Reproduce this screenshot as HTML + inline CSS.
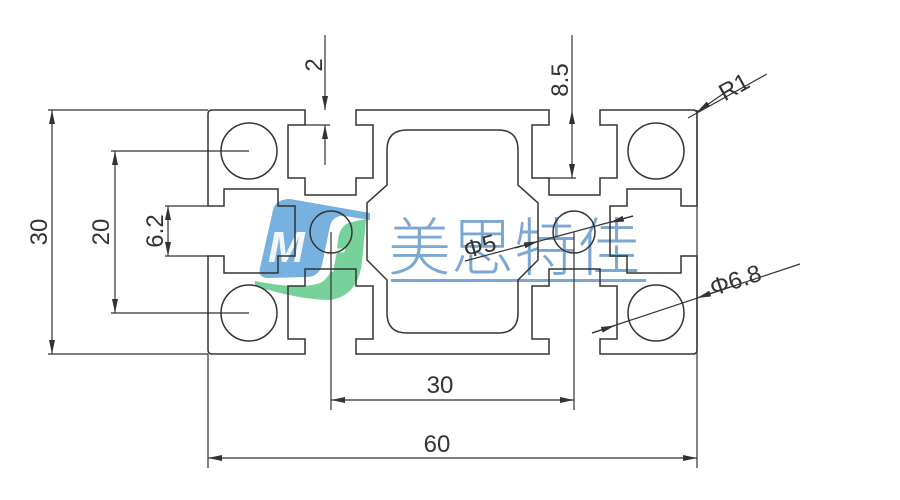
<!DOCTYPE html>
<html><head><meta charset="utf-8"><style>
html,body{margin:0;padding:0;background:#fff;}
svg{display:block;}
text{font-family:"Liberation Sans","DejaVu Sans",sans-serif;fill:#333;}
</style></head><body>
<svg width="900" height="500" viewBox="0 0 900 500" xmlns="http://www.w3.org/2000/svg">
<defs>
<marker id="a" viewBox="0 0 14 6" refX="14" refY="3" markerWidth="14" markerHeight="6" markerUnits="userSpaceOnUse" orient="auto-start-reverse">
<path d="M0,0 L14,3 L0,6 Z" fill="#333"/>
</marker>
</defs>

<!-- logo -->
<g opacity="0.75">
<path d="M290,199 L370,213 L370,220 L345,216 Q333,215 330,226 L322,265 Q319,276 308,277 L268,278 Q258,278 260,268 L273,210 Q276,199 290,199 Z" fill="#4a97d6"/>
<path d="M255,281 Q300,290 320,283 Q335,276 338,240 Q340,224 352,222 L366,219 L362,262 Q358,296 330,300 Q300,300 255,286 Z" fill="#49c27a"/>
</g>
<text x="268" y="262" font-size="44" font-weight="bold" font-style="italic" style="fill:#fff" opacity="0.9">M</text>
<text x="322" y="272" font-size="34" font-weight="bold" font-style="italic" style="fill:#fff" opacity="0.9">T</text>
<text x="388" y="270" font-size="63" style="fill:#7ba7d3;font-family:'Noto Sans CJK SC',sans-serif;font-weight:300">美思特佳</text>
<rect x="391" y="279" width="255" height="3" fill="#7ba7d3"/>

<g fill="none" stroke="#333" stroke-width="1.5">
<path d="M208,114 Q208,110 212,110 L305,110 L305,125 L288,125 L288,178 L305,178 L305,195 L356,195 L356,178 L373,178 L373,125 L356,125 L356,110 L549,110 L549,125 L532,125 L532,178 L549,178 L549,195 L600,195 L600,178 L617,178 L617,125 L600,125 L600,110 L693,110 Q697,110 697,114 L697,206 L681,206 L681,189 L627,189 L627,206 L610,206 L610,256 L627,256 L627,273 L681,273 L681,256 L697,256 L697,350 Q697,354 693,354 L600,354 L600,339 L617,339 L617,286 L600,286 L600,269 L549,269 L549,286 L532,286 L532,339 L549,339 L549,354 L356,354 L356,339 L373,339 L373,286 L356,286 L356,269 L305,269 L305,286 L288,286 L288,339 L305,339 L305,354 L212,354 Q208,354 208,350 L208,256 L224,256 L224,273 L278,273 L278,256 L295,256 L295,206 L278,206 L278,189 L224,189 L224,206 L208,206 Z"/>
<path d="M407,130 L498,130 Q518,130 518,150 L518,185 L538,203 L538,260 L518,280 L518,313 Q518,333 498,333 L407,333 Q387,333 387,313 L387,280 L367,260 L367,203 L387,185 L387,150 Q387,130 407,130 Z"/>
<circle cx="249" cy="151" r="28"/>
<circle cx="249" cy="313" r="28"/>
<circle cx="656" cy="151" r="28"/>
<circle cx="656" cy="313" r="28"/>
<circle cx="331" cy="232" r="21"/>
<circle cx="574" cy="232" r="21"/>
</g>

<g stroke="#333" stroke-width="1.2" fill="none">
<line x1="48" y1="110" x2="208" y2="110"/>
<line x1="48" y1="354" x2="208" y2="354"/>
<line x1="52" y1="110" x2="52" y2="354" marker-start="url(#a)" marker-end="url(#a)"/>
<line x1="111" y1="151" x2="249" y2="151"/>
<line x1="111" y1="313" x2="249" y2="313"/>
<line x1="115" y1="151" x2="115" y2="313" marker-start="url(#a)" marker-end="url(#a)"/>
<line x1="165" y1="206" x2="208" y2="206"/>
<line x1="165" y1="256" x2="208" y2="256"/>
<line x1="168" y1="231" x2="168" y2="206" marker-end="url(#a)"/>
<line x1="168" y1="231" x2="168" y2="256" marker-end="url(#a)"/>
<line x1="325" y1="35" x2="325" y2="110" marker-end="url(#a)"/>
<line x1="305" y1="125" x2="330" y2="125"/>
<line x1="325" y1="165" x2="325" y2="125" marker-end="url(#a)"/>
<line x1="572" y1="35" x2="572" y2="110"/>
<line x1="572" y1="144" x2="572" y2="110" marker-end="url(#a)"/>
<line x1="572" y1="144" x2="572" y2="178" marker-end="url(#a)"/>
<line x1="549" y1="178" x2="576" y2="178"/>
<line x1="688" y1="118" x2="767" y2="74"/>
<line x1="730" y1="89" x2="697" y2="112" marker-end="url(#a)"/>
<line x1="465" y1="261" x2="633" y2="216"/>
<line x1="515" y1="248" x2="538" y2="241.5" marker-end="url(#a)"/>
<line x1="633" y1="216" x2="610" y2="222.5" marker-end="url(#a)"/>
<line x1="592" y1="333" x2="800" y2="264"/>
<line x1="592" y1="333" x2="615" y2="325.5" marker-end="url(#a)"/>
<line x1="730" y1="287" x2="697" y2="298" marker-end="url(#a)"/>
<line x1="331" y1="232" x2="331" y2="410"/>
<line x1="574" y1="232" x2="574" y2="410"/>
<line x1="331" y1="400" x2="574" y2="400" marker-start="url(#a)" marker-end="url(#a)"/>
<line x1="208" y1="354" x2="208" y2="468"/>
<line x1="697" y1="110" x2="697" y2="468"/>
<line x1="208" y1="458" x2="697" y2="458" marker-start="url(#a)" marker-end="url(#a)"/>
</g>

<g font-size="24">
<text transform="translate(47,232) rotate(-90)" text-anchor="middle">30</text>
<text transform="translate(109,232) rotate(-90)" text-anchor="middle">20</text>
<text transform="translate(163,231) rotate(-90)" text-anchor="middle">6.2</text>
<text transform="translate(322,65) rotate(-90)" text-anchor="middle">2</text>
<text transform="translate(568,80) rotate(-90)" text-anchor="middle">8.5</text>
<text transform="translate(738,94) rotate(-29)" text-anchor="middle">R1</text>
<text transform="translate(482,254) rotate(-15)" text-anchor="middle">Φ5</text>
<text transform="translate(738,288) rotate(-18)" text-anchor="middle">Φ6.8</text>
<text x="440" y="393" text-anchor="middle">30</text>
<text x="437" y="452" text-anchor="middle">60</text>
</g>
</svg>
</body></html>
